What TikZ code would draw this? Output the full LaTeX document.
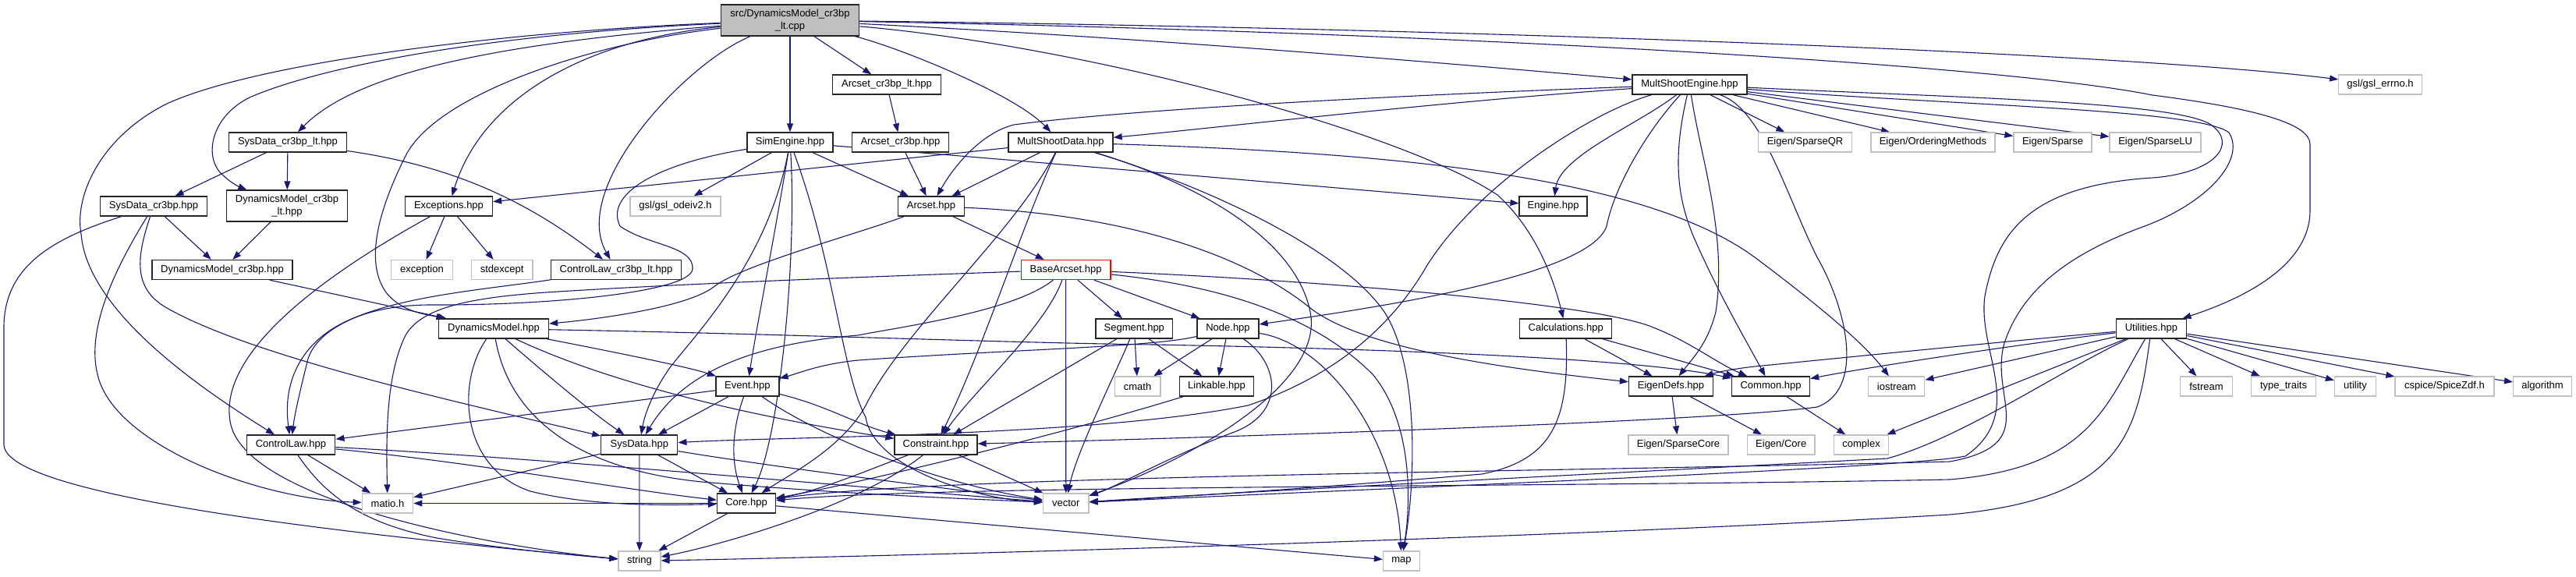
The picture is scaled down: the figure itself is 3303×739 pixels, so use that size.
\documentclass[tikz,border=0pt]{standalone}
\usepackage{fontspec}
\setmainfont{Liberation Sans}
\usetikzlibrary{arrows.meta}
\definecolor{edgec}{HTML}{191970}
\definecolor{graybd}{HTML}{BFBFBF}
\newcommand\fsz{\fontsize{13}{15.5}\selectfont}
\pgfdeclarelayer{bg}
\pgfsetlayers{bg,main}
\tikzset{
 nb/.style={draw=black!85, line width=1.3pt, fill=white, minimum height=25pt, inner sep=0pt, font=\fsz, text=black},
 ng/.style={nb, draw=graybd},
 nr/.style={nb, draw=red},
 e/.style={draw=edgec, line width=1.1pt, -{Triangle[length=11pt,width=8pt]}},
}
\begin{document}
\begin{tikzpicture}[x=1pt,y=-1pt]
\useasboundingbox (0,0) rectangle (3303,739);
% nodes
\node[nb, fill=graybd, minimum width=177.5pt, minimum height=40pt, align=center] (root) at (1013,26) {src/DynamicsModel\_cr3bp\\\_lt.cpp};
\node[nb, minimum width=138.5pt] (arcltx) at (1137,108.5) {Arcset\_cr3bp\_lt.hpp};
\node[nb, minimum width=147pt] (mse) at (2166.5,108.5) {MultShootEngine.hpp};
\node[ng, minimum width=106.5pt] (errno) at (3052,108.5) {gsl/gsl\_errno.h};
\node[nb, minimum width=151pt] (sdlt) at (369,182.5) {SysData\_cr3bp\_lt.hpp};
\node[nb, minimum width=110pt] (sim) at (1013,182.5) {SimEngine.hpp};
\node[nb, minimum width=124pt] (arc3) at (1154.5,182.5) {Arcset\_cr3bp.hpp};
\node[nb, minimum width=134pt] (msd) at (1360,182.5) {MultShootData.hpp};
\node[ng, minimum width=120pt] (sqr) at (2314.5,182.5) {Eigen/SparseQR};
\node[ng, minimum width=159pt] (ord) at (2478.4,182.5) {Eigen/OrderingMethods};
\node[ng, minimum width=100pt] (sp) at (2632,182.5) {Eigen/Sparse};
\node[ng, minimum width=117pt] (slu) at (2763.6,182.5) {Eigen/SparseLU};
\node[nb, minimum width=137.5pt] (sd3) at (197,264.5) {SysData\_cr3bp.hpp};
\node[nb, minimum width=155pt, minimum height=40pt, align=center] (dm3lt) at (368,264) {DynamicsModel\_cr3bp\\\_lt.hpp};
\node[nb, minimum width=112pt] (exc) at (575.5,264.5) {Exceptions.hpp};
\node[ng, minimum width=116pt] (odeiv2) at (866,264.5) {gsl/gsl\_odeiv2.h};
\node[nb, minimum width=85pt] (arcset) at (1194,264.5) {Arcset.hpp};
\node[nb, minimum width=87pt] (engine) at (1991.6,264.5) {Engine.hpp};
\node[nb, minimum width=180pt] (dm3) at (285,346) {DynamicsModel\_cr3bp.hpp};
\node[ng, minimum width=78.6pt] (exception) at (541,346) {exception};
\node[ng, minimum width=78.6pt] (stdexcept) at (643.6,346) {stdexcept};
\node[nb, minimum width=166.5pt] (cllt) at (790,346) {ControlLaw\_cr3bp\_lt.hpp};
\node[nr, minimum width=114.6pt] (base) at (1366.6,346) {BaseArcset.hpp};
\node[nb, minimum width=141pt] (dm) at (633,421.5) {DynamicsModel.hpp};
\node[nb, minimum width=98.6pt] (seg) at (1454.3,421.5) {Segment.hpp};
\node[nb, minimum width=79pt] (node) at (1574.5,421.5) {Node.hpp};
\node[nb, minimum width=118pt] (calc) at (2007.7,421.5) {Calculations.hpp};
\node[nb, minimum width=90.5pt] (util) at (2758.4,421.5) {Utilities.hpp};
\node[nb, minimum width=81pt] (event) at (958.4,495.5) {Event.hpp};
\node[ng, minimum width=58.6pt] (cmath) at (1458.6,495.5) {cmath};
\node[nb, minimum width=94.6pt] (link) at (1560,495.5) {Linkable.hpp};
\node[nb, minimum width=108pt] (eigdef) at (2142.5,495.5) {EigenDefs.hpp};
\node[nb, minimum width=100pt] (common) at (2270.6,495.5) {Common.hpp};
\node[ng, minimum width=72pt] (iostream) at (2431.8,495.5) {iostream};
\node[ng, minimum width=66.7pt] (fstream) at (2829,495.5) {fstream};
\node[ng, minimum width=82.5pt] (ttraits) at (2928,495.5) {type\_traits};
\node[ng, minimum width=53pt] (utility) at (3020,495.5) {utility};
\node[ng, minimum width=127pt] (cspice) at (3134.5,495.5) {cspice/SpiceZdf.h};
\node[ng, minimum width=74.7pt] (algorithm) at (3260,495.5) {algorithm};
\node[nb, minimum width=113.6pt] (cl) at (373,570.5) {ControlLaw.hpp};
\node[nb, minimum width=98pt] (sysdata) at (819.8,570.5) {SysData.hpp};
\node[nb, minimum width=106pt] (cons) at (1200,570.5) {Constraint.hpp};
\node[ng, minimum width=128pt] (spcore) at (2152,570.5) {Eigen/SparseCore};
\node[ng, minimum width=86.8pt] (eigcore) at (2283.7,570.5) {Eigen/Core};
\node[ng, minimum width=70.4pt] (complex) at (2386.6,570.5) {complex};
\node[ng, minimum width=65.4pt] (matio) at (497,645.5) {matio.h};
\node[nb, minimum width=75pt] (core) at (957,645.5) {Core.hpp};
\node[ng, minimum width=58.6pt] (vector) at (1366.8,645.5) {vector};
\node[ng, minimum width=54pt] (string) at (819.9,719.5) {string};
\node[ng, minimum width=47pt] (map) at (1797,719.5) {map};
\begin{pgfonlayer}{bg}
\fill[white] (0,0) rectangle (3303,739);
% root
\draw[e] (root) .. controls (650,40) and (330,80) .. (214,133) .. controls (130,175) and (95,250) .. (104,300) .. controls (112,400) and (260,500) .. (cl);
\draw[e] (root) .. controls (600,45) and (400,90) .. (320,125) .. controls (270,150) and (262,200) .. (283,222) .. controls (293,232) and (303,238) .. (dm3lt);
\draw[e] (root) .. controls (650,55) and (460,90) .. (sdlt);
\draw[e] (root) .. controls (760,55) and (560,120) .. (520,200) .. controls (480,280) and (470,340) .. (495,375) .. controls (515,400) and (545,403) .. (dm);
\draw[e] (root) .. controls (760,50) and (620,120) .. (exc);
\draw[e] (root) .. controls (880,80) and (730,240) .. (cllt);
\draw[e] (root) -- (sim);
\draw[e] (root) -- (arcltx);
\draw[e] (root) .. controls (1150,60) and (1300,120) .. (msd);
\draw[e] (root) .. controls (1500,50) and (1900,85) .. (mse);
\draw[e] (root) .. controls (1800,35) and (2700,65) .. (errno);
\draw[e] (root) .. controls (1800,40) and (2550,80) .. (2760,122) .. controls (2900,140) and (2962,160) .. (2962,185) -- (2962,270) .. controls (2962,330) and (2900,375) .. (util);
\draw[e] (root) .. controls (1400,60) and (1800,170) .. (1920,250) .. controls (1975,300) and (1995,370) .. (calc);
% sdlt
\draw[e] (sdlt) -- (sd3);
\draw[e] (sdlt) -- (dm3lt);
\draw[e] (sdlt) .. controls (560,210) and (660,245) .. (cllt);
% sd3
\draw[e] (sd3) -- (dm3);
\draw[e] (sd3) .. controls (70,305) and (5,340) .. (5,420) -- (5,570) .. controls (5,640) and (500,690) .. (string);
\draw[e] (sd3) .. controls (150,340) and (110,420) .. (125,480) .. controls (145,570) and (330,640) .. (matio);
\draw[e] (sd3) .. controls (175,330) and (170,370) .. (214,395) .. controls (320,455) and (560,510) .. (sysdata);
% dm3lt dm3
\draw[e] (dm3lt) -- (dm3);
\draw[e] (dm3) -- (dm);
% exc
\draw[e] (exc) -- (exception);
\draw[e] (exc) -- (stdexcept);
\draw[e] (exc) .. controls (420,350) and (280,450) .. (295,540) .. controls (310,640) and (620,700) .. (string);
% cllt
\draw[e] (cllt) .. controls (600,375) and (420,385) .. (395,460) .. controls (385,500) and (378,530) .. (cl);
% arcsets
\draw[e] (arcltx) -- (arc3);
\draw[e] (arc3) -- (arcset);
% sim
\draw[e] (sim) -- (odeiv2);
\draw[e] (sim) .. controls (990,320) and (970,420) .. (event);
\draw[e] (sim) .. controls (1022,330) and (1000,560) .. (core);
\draw[e] (sim) .. controls (1068,330) and (1080,480) .. (1110,535) .. controls (1120,600) and (1250,640) .. (vector);
\draw[e] (sim) -- (arcset);
\draw[e] (sim) .. controls (1300,205) and (1700,240) .. (engine);
\draw[e] (sim) .. controls (840,210) and (775,250) .. (795,290) .. controls (830,315) and (890,315) .. (888,345) .. controls (886,375) and (700,392) .. (550,391) .. controls (420,392) and (358,460) .. (cl);
\draw[e] (sim) .. controls (985,330) and (900,420) .. (860,470) .. controls (835,505) and (826,535) .. (sysdata);
% msd
\draw[e] (msd) -- (exc);
\draw[e] (msd) -- (arcset);
\draw[e] (msd) .. controls (1300,300) and (1160,420) .. (1110,520) .. controls (1080,575) and (1010,610) .. (core);
\draw[e] (msd) .. controls (1310,290) and (1260,450) .. (cons);
\draw[e] (msd) .. controls (1550,240) and (1720,320) .. (1775,400) .. controls (1820,470) and (1815,620) .. (map);
\draw[e] (msd) .. controls (1520,230) and (1660,300) .. (1680,400) .. controls (1700,500) and (1500,600) .. (vector);
\draw[e] (msd) .. controls (1750,195) and (2100,220) .. (2250,330) .. controls (2330,390) and (2390,440) .. (iostream);
% arcset
\draw[e] (arcset) -- (base);
\draw[e] (arcset) .. controls (1100,300) and (950,340) .. (915,368) .. controls (880,395) and (760,410) .. (dm);
\draw[e] (arcset) .. controls (1450,275) and (1600,330) .. (1680,395) .. controls (1750,450) and (1950,475) .. (eigdef);
% base
\draw[e] (base) -- (seg);
\draw[e] (base) -- (node);
\draw[e] (base) -- (vector);
\draw[e] (base) .. controls (1340,420) and (1250,500) .. (cons);
\draw[e] (base) .. controls (1300,400) and (1150,420) .. (1100,430) .. controls (980,440) and (880,470) .. (sysdata);
\draw[e] (base) .. controls (1200,352) and (900,362) .. (700,375) .. controls (600,382) and (540,395) .. (520,430) .. controls (495,480) and (495,560) .. (matio);
\draw[e] (base) .. controls (1700,360) and (2050,390) .. (2120,420) .. controls (2170,440) and (2200,465) .. (common);
\draw[e] (base) .. controls (1600,370) and (1700,420) .. (1760,480) .. controls (1810,540) and (1810,640) .. (map);
% seg
\draw[e] (seg) -- (cmath);
\draw[e] (seg) -- (link);
\draw[e] (seg) -- (cons);
\draw[e] (seg) .. controls (1430,480) and (1380,580) .. (vector);
% node
\draw[e] (node) -- (cmath);
\draw[e] (node) -- (link);
\draw[e] (node) .. controls (1640,465) and (1650,530) .. (1580,555) .. controls (1500,585) and (1430,625) .. (vector);
\draw[e] (node) .. controls (1700,440) and (1790,560) .. (map);
\draw[e] (node) .. controls (1480,445) and (1300,448) .. (1100,462) .. controls (1050,467) and (1020,480) .. (event);
% link
\draw[e] (link) .. controls (1350,560) and (1100,620) .. (core);
% event
\draw[e] (event) -- (sysdata);
\draw[e] (event) .. controls (935,560) and (940,600) .. (core);
\draw[e] (event) .. controls (1060,520) and (1100,545) .. (cons);
\draw[e] (event) .. controls (1050,560) and (1200,620) .. (vector);
\draw[e] (event) -- (cl);
% dm
\draw[e] (dm) .. controls (700,480) and (760,530) .. (sysdata);
\draw[e] (dm) .. controls (585,490) and (590,600) .. (680,630) .. controls (760,650) and (860,648) .. (core);
\draw[e] (dm) .. controls (650,520) and (720,600) .. (900,618) .. controls (1100,635) and (1250,640) .. (vector);
\draw[e] (dm) .. controls (800,500) and (1000,540) .. (cons);
\draw[e] (dm) .. controls (780,450) and (880,470) .. (event);
\draw[e] (dm) .. controls (1000,428) and (1300,440) .. (1480,442) .. controls (1800,448) and (2100,460) .. (common);
% cl
\draw[e] (cl) -- (matio);
\draw[e] (cl) .. controls (420,640) and (470,672) .. (560,690) .. controls (650,705) and (740,712) .. (string);
\draw[e] (cl) .. controls (600,592) and (800,628) .. (core);
\draw[e] (cl) .. controls (700,588) and (1100,625) .. (vector);
% sysdata
\draw[e] (sysdata) -- (core);
\draw[e] (sysdata) -- (string);
\draw[e] (sysdata) -- (matio);
\draw[e] (sysdata) .. controls (1000,600) and (1200,625) .. (vector);
% core
\draw[e] (core) -- (string);
\draw[e] (core) -- (map);
\draw[e] (core) -- (matio);
% cons
\draw[e] (cons) -- (vector);
\draw[e] (cons) .. controls (1120,600) and (1050,630) .. (core);
\draw[e] (cons) .. controls (1100,650) and (920,700) .. (string);
% calc
\draw[e] (calc) -- (eigdef);
\draw[e] (calc) -- (common);
\draw[e] (calc) .. controls (2012,540) and (1990,590) .. (1900,608) .. controls (1700,625) and (1500,638) .. (vector);
% eigdef common
\draw[e] (eigdef) -- (spcore);
\draw[e] (eigdef) -- (eigcore);
\draw[e] (common) -- (complex);
% mse
\draw[e] (mse) .. controls (1800,122) and (1450,140) .. (1300,160) .. controls (1260,170) and (1225,210) .. (arcset);
\draw[e] (mse) .. controls (1850,130) and (1550,165) .. (msd);
\draw[e] (mse) .. controls (2100,160) and (2000,200) .. (engine);
\draw[e] (mse) .. controls (2110,170) and (2070,240) .. (2060,290) .. controls (2040,350) and (1800,390) .. (node);
\draw[e] (mse) .. controls (2145,200) and (2150,250) .. (2170,300) .. controls (2200,370) and (2235,430) .. (common);
\draw[e] (mse) .. controls (2180,200) and (2215,300) .. (2200,400) .. controls (2190,440) and (2170,460) .. (eigdef);
\draw[e] (mse) -- (sqr);
\draw[e] (mse) -- (ord);
\draw[e] (mse) -- (sp);
\draw[e] (mse) -- (slu);
\draw[e] (mse) .. controls (2500,125) and (2790,130) .. (2835,160) .. controls (2870,185) and (2840,222) .. (2760,228) .. controls (2600,238) and (2560,300) .. (2545,380) .. controls (2535,450) and (2600,530) .. (2520,585) .. controls (2450,600) and (1800,625) .. (vector);
\draw[e] (mse) .. controls (2500,135) and (2820,140) .. (2858,170) .. controls (2880,205) and (2830,260) .. (2750,290) .. controls (2640,330) and (2590,380) .. (2570,440) .. controls (2550,510) and (2620,570) .. (2500,592) .. controls (2000,605) and (1200,610) .. (core);
\draw[e] (mse) .. controls (2050,140) and (1900,230) .. (1830,340) .. controls (1790,410) and (1720,480) .. (1600,520) .. controls (1400,560) and (1000,560) .. (sysdata);
\draw[e] (mse) .. controls (2260,140) and (2290,250) .. (2330,330) .. controls (2370,400) and (2390,500) .. (2330,522) .. controls (2200,540) and (1600,560) .. (cons);
% util
\draw[e] (util) .. controls (2600,440) and (2400,470) .. (common);
\draw[e] (util) .. controls (2600,435) and (2350,460) .. (2250,470) .. controls (2215,474) and (2200,478) .. (eigdef);
\draw[e] (util) -- (iostream);
\draw[e] (util) -- (complex);
\draw[e] (util) -- (fstream);
\draw[e] (util) -- (ttraits);
\draw[e] (util) -- (utility);
\draw[e] (util) -- (cspice);
\draw[e] (util) -- (algorithm);
\draw[e] (util) .. controls (2650,470) and (2520,560) .. (2420,588) .. controls (2200,600) and (1600,630) .. (vector);
\draw[e] (util) .. controls (2700,520) and (2680,600) .. (2500,615) .. controls (2000,625) and (1200,622) .. (core);
\draw[e] (util) .. controls (2740,560) and (2720,640) .. (2500,660) .. controls (2000,690) and (1200,712) .. (string);
\end{pgfonlayer}
\end{tikzpicture}
\end{document}
